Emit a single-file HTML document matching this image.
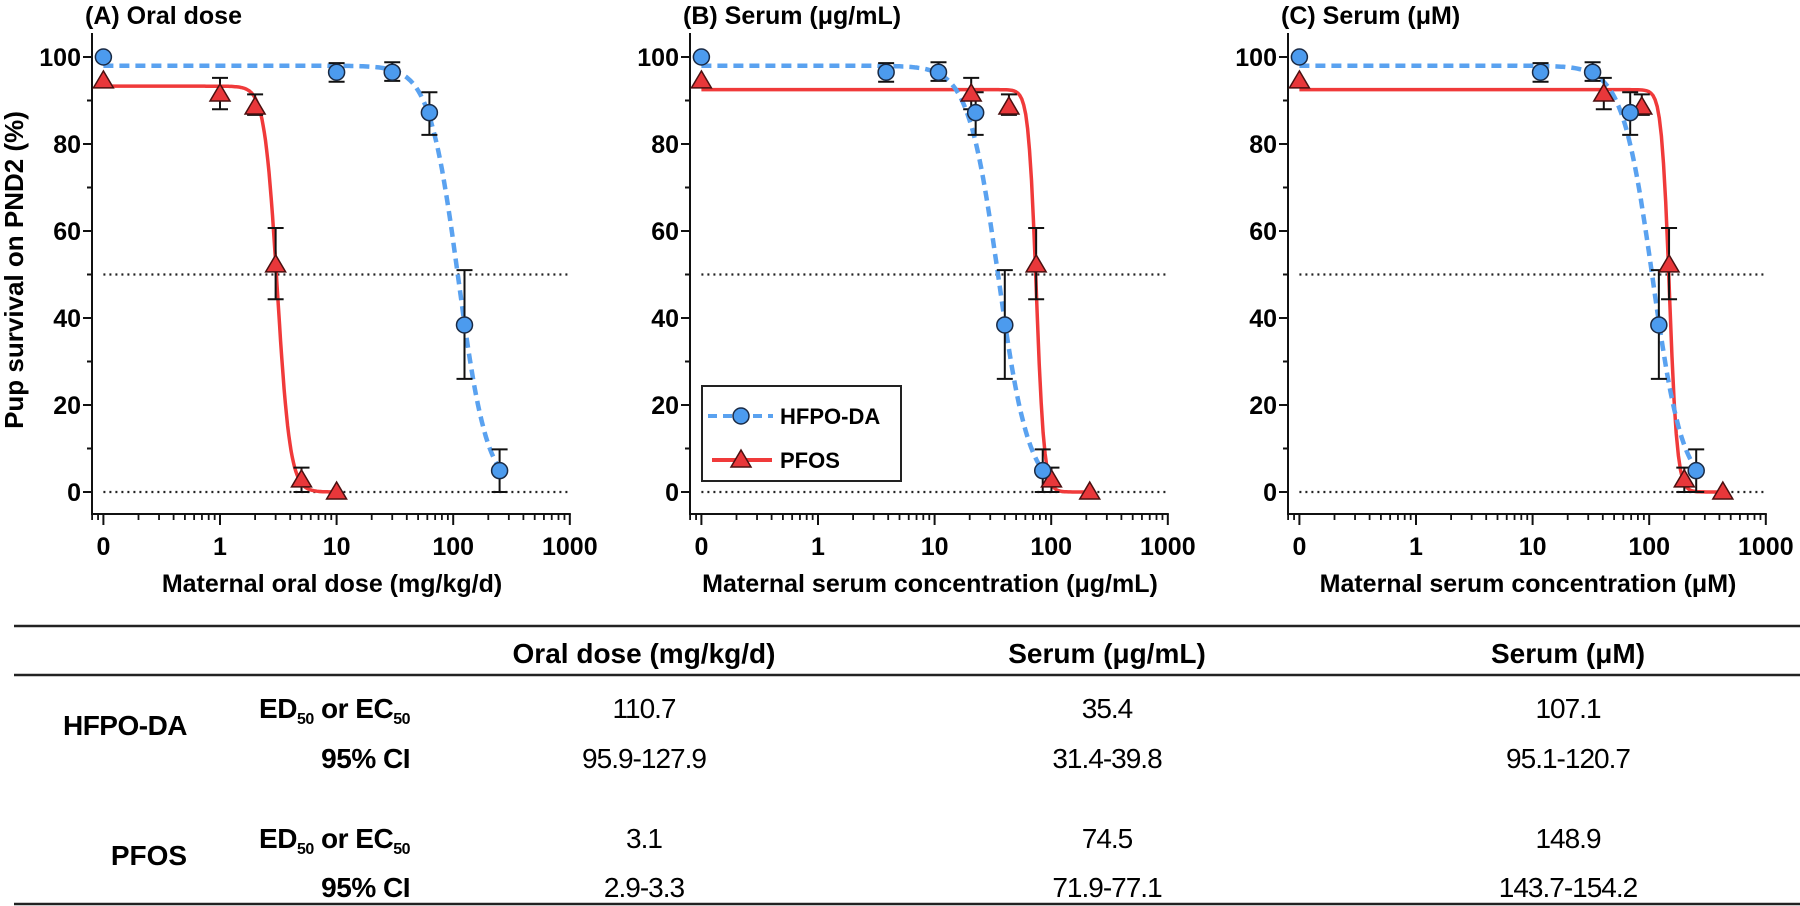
<!DOCTYPE html>
<html><head><meta charset="utf-8"><style>
html,body{margin:0;padding:0;background:#fff;}
svg{display:block;font-family:"Liberation Sans",Arial,sans-serif;}
</style></head><body>
<svg id="fig" width="1800" height="906" viewBox="0 0 1800 906">
  <g id="panels"></g>
  <text x="16" y="270" transform="rotate(-90 16 270)" font-size="26" font-weight="bold" text-anchor="middle" dominant-baseline="middle">Pup survival on PND2 (%)</text>
  <g>
    <rect x="702" y="386" width="199" height="95" fill="#fff" stroke="#222" stroke-width="2"/>
    <g>
      <line x1="708" y1="416" x2="773" y2="416" stroke="#5aa2f0" stroke-width="4" stroke-dasharray="9 6"/>
      <circle cx="741" cy="416" r="8" fill="#4c9bee" stroke="#1a2a44" stroke-width="1.5"/>
      <text x="780" y="424" font-size="22" font-weight="bold">HFPO-DA</text>
    </g>
    <g>
      <line x1="712" y1="460" x2="772" y2="460" stroke="#f03a3a" stroke-width="4"/>
      <path d="M741,450 L751,467 L731,467 Z" fill="#e8373a" stroke="#4a1010" stroke-width="1.5"/>
      <text x="780" y="468" font-size="22" font-weight="bold">PFOS</text>
    </g>
  </g>
  <g font-size="28">
    <line x1="14" y1="626" x2="1800" y2="626" stroke="#222" stroke-width="2.5"/>
    <line x1="14" y1="675" x2="1800" y2="675" stroke="#222" stroke-width="2.5"/>
    <line x1="14" y1="904" x2="1800" y2="904" stroke="#222" stroke-width="2.5"/>
    <g font-weight="bold" text-anchor="middle">
      <text x="644" y="663">Oral dose (mg/kg/d)</text>
      <text x="1107" y="663">Serum (μg/mL)</text>
      <text x="1568" y="663">Serum (μM)</text>
    </g>
    <text x="125" y="735" font-weight="bold" text-anchor="middle" letter-spacing="-0.5">HFPO-DA</text>
    <text x="149" y="865" font-weight="bold" text-anchor="middle">PFOS</text>
    <text x="410" y="718" font-weight="bold" text-anchor="end" letter-spacing="-0.5">ED<tspan font-size="16" dy="6">50</tspan><tspan dy="-6"> or EC</tspan><tspan font-size="16" dy="6">50</tspan></text>
    <text x="410" y="768" font-weight="bold" text-anchor="end" letter-spacing="-0.5">95% CI</text>
    <text x="410" y="848" font-weight="bold" text-anchor="end" letter-spacing="-0.5">ED<tspan font-size="16" dy="6">50</tspan><tspan dy="-6"> or EC</tspan><tspan font-size="16" dy="6">50</tspan></text>
    <text x="410" y="897" font-weight="bold" text-anchor="end" letter-spacing="-0.5">95% CI</text>
    <g text-anchor="middle" letter-spacing="-1">
      <text x="644" y="718">110.7</text><text x="1107" y="718">35.4</text><text x="1568" y="718">107.1</text>
      <text x="644" y="768">95.9-127.9</text><text x="1107" y="768">31.4-39.8</text><text x="1568" y="768">95.1-120.7</text>
      <text x="644" y="848">3.1</text><text x="1107" y="848">74.5</text><text x="1568" y="848">148.9</text>
      <text x="644" y="897">2.9-3.3</text><text x="1107" y="897">71.9-77.1</text><text x="1568" y="897">143.7-154.2</text>
    </g>
  </g>
</svg>
<script>
// ---- data ----
const panelTitles = ["(A) Oral dose", "(B) Serum (μg/mL)", "(C) Serum (μM)"];
const xAxisTitles = ["Maternal oral dose (mg/kg/d)", "Maternal serum concentration (μg/mL)", "Maternal serum concentration (μM)"];
const xTickLabels = ["0", "1", "10", "100", "1000"];
const yTickLabels = [0, 20, 40, 60, 80, 100];
// x values (0 plotted at the 0.1 break position)
const hfpoX_A = [0, 10, 30, 62.5, 125, 250];
const hfpoX_B = [0, 3.84, 10.8, 22.5, 40, 84.6];
const hfpoX_C = [0, 11.7, 32.7, 68.7, 121, 253];
const pfosX_A = [0, 1, 2, 3, 5, 10];
const pfosX_B = [0, 20.6, 43.4, 74.3, 100.5, 214];
const pfosX_C = [0, 40.8, 86.4, 148, 200, 428];
const hfpoY = [100, 96.5, 96.5, 87.2, 38.4, 4.9];
const hfpoLo = [100, 94.3, 94.5, 82.1, 26.0, 0];
const hfpoHi = [100, 98.6, 98.8, 91.9, 51.0, 9.8];
const pfosY = [94.5, 91.5, 88.5, 52.2, 2.8, 0];
const pfosLo = [94.5, 88.0, 86.7, 44.3, 0, 0];
const pfosHi = [94.5, 95.2, 91.4, 60.7, 5.6, 0];
// fit parameters: top, EC50, hill slope
const hfpoTop = [98, 98, 98];
const hfpoEC50 = [110.7, 35.4, 107.1];
const hfpoHill = [3.5, 3.35, 3.35];
const pfosTop = [93.3, 92.5, 92.5];
const pfosEC50 = [3.1, 74.5, 148.9];
const pfosHill = [8, 13, 13];

const NS = "http://www.w3.org/2000/svg";
function mk(tag, attrs, parent){
  const e = document.createElementNS(NS, tag);
  for (const k in attrs) e.setAttribute(k, attrs[k]);
  parent.appendChild(e);
  return e;
}
const root = document.getElementById("panels");
const offsets = [0, 598, 1196];
const DEC = 116.6;
function xs(off, v){ const vv = v <= 0 ? 0.1 : v; return off + 220 + DEC * Math.log10(vv); }
function ys(v){ return 492 - 4.35 * v; }
function hill(x, top, ec, h){ return top / (1 + Math.pow(x / ec, h)); }

const hX = [hfpoX_A, hfpoX_B, hfpoX_C];
const pX = [pfosX_A, pfosX_B, pfosX_C];
const names = ["a", "b", "c"];

for (let p = 0; p < 3; p++) {
  const off = offsets[p];
  const g = mk("g", {}, root);
  
  
  const t = mk("text", {x: off + 85, y: 24, "font-size": 25, "font-weight": "bold"}, g);
  t.textContent = panelTitles[p];
  
  
  const ax = off + 92;
  const yAxis = mk("line", {x1: ax, y1: 33, x2: ax, y2: 515, stroke: "#111", "stroke-width": 2}, g);
  
  
  const xAxis = mk("line", {x1: ax - 1, y1: 514, x2: xs(off, 1000) + 1, y2: 514, stroke: "#111", "stroke-width": 2}, g);
  
  
  for (let v = 0; v <= 100; v += 10) {
    const major = v % 20 === 0;
    mk("line", {x1: ax - (major ? 9 : 5), y1: ys(v), x2: ax, y2: ys(v), stroke: "#111", "stroke-width": 2}, g);
  }
  yTickLabels.forEach(v => {
    const tl = mk("text", {x: ax - 11, y: ys(v) + 9, "font-size": 25, "font-weight": "bold", "text-anchor": "end"}, g);
    tl.textContent = v;
    
    
  });
  const minors = [0.08, 0.09];
  for (let d = 0.1; d < 1000; d *= 10) for (let k = 2; k <= 9; k++) minors.push(d * k);
  minors.forEach(v => { if (v >= 0.2 || v < 0.1) { const xx = xs(off, v); mk("line", {x1: xx, y1: 514, x2: xx, y2: 520, stroke: "#111", "stroke-width": 1.8}, g); } });
  [0.1, 1, 10, 100, 1000].forEach((v, i) => {
    const xx = xs(off, v);
    mk("line", {x1: xx, y1: 514, x2: xx, y2: 525, stroke: "#111", "stroke-width": 2}, g);
    const tl = mk("text", {x: xx, y: 555, "font-size": 25, "font-weight": "bold", "text-anchor": "middle"}, g);
    tl.textContent = xTickLabels[i];
    
    
  });
  const xt = mk("text", {x: off + 332, y: 592, "font-size": 25, "font-weight": "bold", "text-anchor": "middle"}, g);
  xt.textContent = xAxisTitles[p];
  
  
  [50, 0].forEach(v => {
    const rl = mk("line", {x1: xs(off, 0.1), y1: ys(v), x2: xs(off, 1000) - 2, y2: ys(v), stroke: "#222", "stroke-width": 2.2, "stroke-dasharray": "2 4"}, g);
    
    
  });
  function curve(xarr, top, ec, h, attrs, nm){
    const lo = Math.log10(0.1), hi = Math.log10(xarr[xarr.length - 1]);
    let d = "";
    for (let i = 0; i <= 200; i++) {
      const lx = lo + (hi - lo) * i / 200, x = Math.pow(10, lx);
      d += (i ? "L" : "M") + xs(off, x).toFixed(1) + "," + ys(hill(x, top, ec, h)).toFixed(1);
    }
    attrs.d = d; attrs.fill = "none";
    const c = mk("path", attrs, g);
    
    
  }
  curve(pX[p], pfosTop[p], pfosEC50[p], pfosHill[p], {stroke: "#f03a3a", "stroke-width": 3.5}, 'pfos-fit-curve');
  curve(hX[p], hfpoTop[p], hfpoEC50[p], hfpoHill[p], {stroke: "#5aa2f0", "stroke-width": 4.5, "stroke-dasharray": "10 6"}, 'hfpo-da-fit-curve');
  function errs(xarr, lo, hi){
    xarr.forEach((x, i) => {
      if (hi[i] - lo[i] < 0.5) return;
      const xx = xs(off, x);
      const e = mk("path", {d: `M${xx},${ys(lo[i])}V${ys(hi[i])}M${xx-8},${ys(lo[i])}H${xx+8}M${xx-8},${ys(hi[i])}H${xx+8}`, stroke: "#111", "stroke-width": 2, fill: "none"}, g);
      
      
    });
  }
  errs(pX[p], pfosLo, pfosHi);
  errs(hX[p], hfpoLo, hfpoHi);
  pX[p].forEach((x, i) => {
    const xx = xs(off, x), yy = ys(pfosY[i]);
    const m = mk("path", {d: `M${xx},${yy-10}L${xx+10},${yy+7}L${xx-10},${yy+7}Z`, fill: "#e8373a", stroke: "#4a1010", "stroke-width": 1.5}, g);
    
    
  });
  hX[p].forEach((x, i) => {
    const m = mk("circle", {cx: xs(off, x), cy: ys(hfpoY[i]), r: 8, fill: "#4c9bee", stroke: "#1a2a44", "stroke-width": 1.5}, g);
    
    
  });
}
</script>
</body></html>
